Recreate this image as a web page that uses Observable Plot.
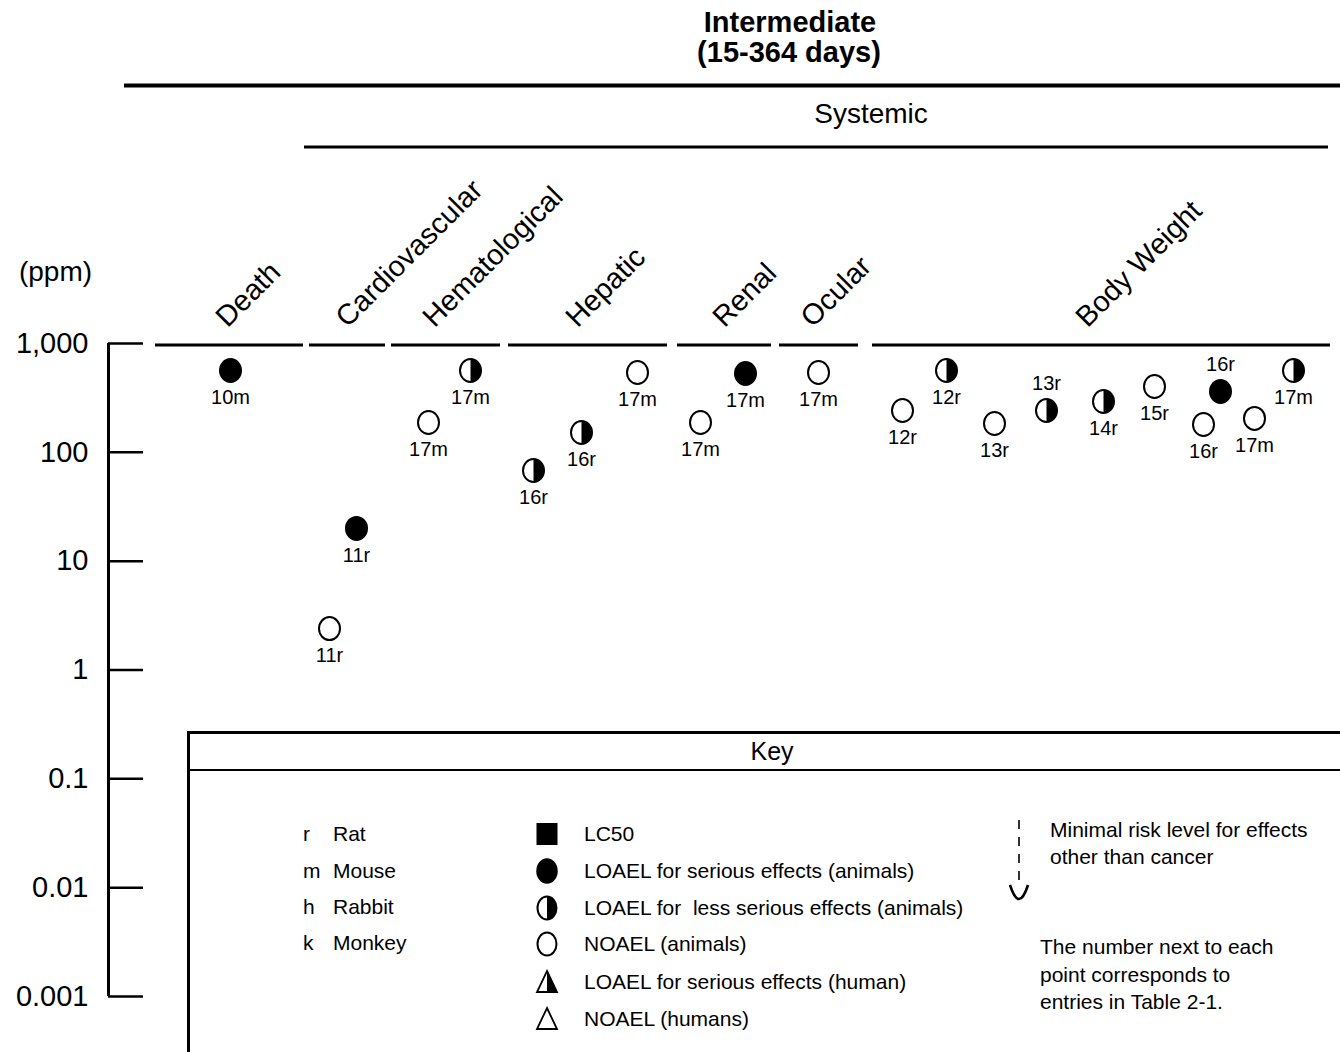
<!DOCTYPE html>
<html>
<head>
<meta charset="utf-8">
<script src="https://cdn.jsdelivr.net/npm/d3@7"></script>
<script src="https://cdn.jsdelivr.net/npm/@observablehq/plot@0.6"></script>
<style>
  html, body { margin: 0; padding: 0; background: #fff; }
  #wrap { position: relative; width: 1340px; height: 1052px; overflow: hidden; font-family: "Liberation Sans", Arial, Helvetica, sans-serif; }
  #header, #chart { display: block; }
  #key { position: absolute; left: 187px; top: 731px; }
  text { white-space: pre; }
</style>
</head>
<body>
<div id="wrap">
  <svg id="header" width="1340" height="160" font-family="Liberation Sans, Arial, Helvetica, sans-serif">
    <text x="790" y="32" text-anchor="middle" font-size="29" font-weight="bold">Intermediate</text>
    <text x="789" y="62" text-anchor="middle" font-size="29" font-weight="bold">(15-364 days)</text>
    <line x1="124" x2="1340" y1="85.5" y2="85.5" stroke="#000" stroke-width="4"/>
    <text x="871" y="123" text-anchor="middle" font-size="28">Systemic</text>
    <line x1="304" x2="1328" y1="147" y2="147" stroke="#000" stroke-width="3"/>
  </svg>
  <div id="chart"></div>
  <svg id="key" width="1153" height="321" font-family="Liberation Sans, Arial, Helvetica, sans-serif" font-size="21">
    <rect x="0" y="0" width="1153" height="321" fill="#fff"/>
    <line x1="1.5" x2="1.5" y1="0" y2="321" stroke="#000" stroke-width="3"/>
    <line x1="0" x2="1153" y1="1.5" y2="1.5" stroke="#000" stroke-width="3"/>
    <line x1="0" x2="1153" y1="39" y2="39" stroke="#000" stroke-width="2"/>
    <text x="585" y="29" text-anchor="middle" font-size="25">Key</text>
    <g id="keyRows"></g>
    <line x1="832" x2="832" y1="89" y2="152" stroke="#000" stroke-width="1.6" stroke-dasharray="9,8"/>
    <path d="M823,154 Q832,182 841,154" fill="none" stroke="#000" stroke-width="2.6"/>
    <text x="863" y="106">Minimal risk level for effects</text>
    <text x="863" y="133">other than cancer</text>
    <text x="853" y="223">The number next to each</text>
    <text x="853" y="251">point corresponds to</text>
    <text x="853" y="278">entries in Table 2-1.</text>
  </svg>
</div>
<script>
// ---- data ----
const categories = ["Death", "Cardiovascular", "Hematological", "Hepatic", "Renal", "Ocular", "Body Weight"];
const categoryStart = [4.7, 20.1, 28.3, 40.0, 56.9, 67.1, 76.4];
const categoryEnd = [19.5, 27.7, 39.2, 55.9, 66.3, 75.0, 122.2];
const categoryLabelAt = [11.9, 23.9, 32.6, 46.9, 61.6, 70.4, 97.9];

const pointColumn = [12.2, 24.8, 22.1, 32.0, 36.2, 42.5, 47.3, 52.9, 59.2, 63.7, 71.0, 79.4, 83.8, 88.6, 93.8, 99.5, 104.6, 109.5, 111.2, 114.6, 118.5];
const pointPpm = [565, 20, 2.4, 188, 565, 68, 152, 541, 188, 530, 541, 242, 565, 184, 242, 293, 403, 180, 362, 205, 565];
const pointEffect = ["serious", "serious", "noael", "noael", "less", "less", "less", "noael", "noael", "serious", "noael",
                     "noael", "less", "noael", "less", "less", "noael", "noael", "serious", "noael", "less"];
const pointLabel = ["10m", "11r", "11r", "17m", "17m", "16r", "16r", "17m", "17m", "17m", "17m",
                    "12r", "12r", "13r", "13r", "14r", "15r", "16r", "16r", "17m", "17m"];
const labelAbove = [false, false, false, false, false, false, false, false, false, false, false,
                    false, false, false, true, false, false, false, true, false, false];

const tickValues = [0.001, 0.01, 0.1, 1, 10, 100, 1000];
const tickLabels = ["0.001", "0.01", "0.1", "1", "10", "100", "1,000"];

const speciesCodes = ["r", "m", "h", "k"];
const speciesNames = ["Rat", "Mouse", "Rabbit", "Monkey"];
const keySymbols = ["square", "filled", "half", "open", "triHalf", "triOpen"];
const keyLabels = ["LC50", "LOAEL for serious effects (animals)", "LOAEL for  less serious effects (animals)",
                   "NOAEL (animals)", "LOAEL for serious effects (human)", "NOAEL (humans)"];

// ---- tables ----
const cats = categories.map((name, i) => ({name, start: categoryStart[i], end: categoryEnd[i], at: categoryLabelAt[i]}));
const points = pointColumn.map((col, i) => ({col, ppm: pointPpm[i], effect: pointEffect[i], label: pointLabel[i], above: labelAbove[i]}));

// ---- custom symbols ----
const K = 0.5523;
const ellipseSymbol = {
  draw(ctx, size) {
    const ry = Math.sqrt(size / Math.PI), rx = ry * 0.913;
    ctx.moveTo(rx, 0);
    ctx.bezierCurveTo(rx, ry * K, rx * K, ry, 0, ry);
    ctx.bezierCurveTo(-rx * K, ry, -rx, ry * K, -rx, 0);
    ctx.bezierCurveTo(-rx, -ry * K, -rx * K, -ry, 0, -ry);
    ctx.bezierCurveTo(rx * K, -ry, rx, -ry * K, rx, 0);
    ctx.closePath();
  }
};
const halfRightSymbol = {
  draw(ctx, size) {
    const ry = Math.sqrt(size / Math.PI), rx = ry * 0.913;
    ctx.moveTo(0, -ry);
    ctx.bezierCurveTo(rx * K, -ry, rx, -ry * K, rx, 0);
    ctx.bezierCurveTo(rx, ry * K, rx * K, ry, 0, ry);
    ctx.closePath();
  }
};

const W = 1340, ML = 108, MR = 10;
const frameW = W - ML - MR;

const chart = Plot.plot({
  width: W,
  height: 892,
  marginTop: 183,
  marginBottom: 56,
  marginLeft: ML,
  marginRight: MR,
  x: {domain: [0, 122.2], axis: null},
  y: {type: "log", domain: [0.001, 1000], axis: null},
  style: {fontFamily: "Liberation Sans, Arial, Helvetica, sans-serif", color: "#000", background: "transparent", overflow: "visible"},
  marks: [
    // y axis
    Plot.ruleX([0], {y1: 0.001, y2: 1000, stroke: "#000", strokeWidth: 3}),
    Plot.tickY(tickValues, {y: d => d, insetRight: frameW - 35, stroke: "#000", strokeWidth: 2.5}),
    Plot.axisY(tickValues, {tickSize: 0, tickPadding: 20, fontSize: 29, label: null,
      tickFormat: d => tickLabels[tickValues.indexOf(d)]}),
    Plot.text(["(ppm)"], {text: d => d, frameAnchor: "top-left", lineAnchor: "middle", dx: -53, dy: -71, fontSize: 28, textAnchor: "middle"}),
    // category headers
    Plot.ruleY(cats, {y: () => 1000, x1: "start", x2: "end", stroke: "#000", strokeWidth: 3, dy: 1.5}),
    Plot.text(cats, {x: "at", y: () => 1000, text: "name", rotate: -45,
      textAnchor: "start", lineAnchor: "bottom", dy: -15, fontSize: 29}),
    // points
    Plot.dot(points, {x: "col", y: "ppm", r: 11.5, symbol: ellipseSymbol, fill: "#fff", stroke: "#000", strokeWidth: 2,
      filter: d => d.effect !== "serious"}),
    Plot.dot(points, {x: "col", y: "ppm", r: 11.5, symbol: halfRightSymbol, fill: "#000",
      filter: d => d.effect === "less"}),
    Plot.dot(points, {x: "col", y: "ppm", r: 11.5, symbol: ellipseSymbol, fill: "#000", stroke: "#000", strokeWidth: 2,
      filter: d => d.effect === "serious"}),
    // point labels
    Plot.text(points, {x: "col", y: "ppm", text: "label", dy: 27, fontSize: 20, filter: d => !d.above}),
    Plot.text(points, {x: "col", y: "ppm", text: "label", dy: -27, fontSize: 20, filter: d => d.above})
  ]
});
document.getElementById("chart").appendChild(chart);

// ---- key rows ----
const ns = "http://www.w3.org/2000/svg";
const rows = document.getElementById("keyRows");
function el(tag, attrs, text) {
  const e = document.createElementNS(ns, tag);
  for (const k in attrs) e.setAttribute(k, attrs[k]);
  if (text != null) e.textContent = text;
  rows.appendChild(e);
  return e;
}
const speciesY = [103, 140, 176, 212];
speciesCodes.forEach((c, i) => {
  el("text", {x: 116, y: speciesY[i] + 7}, c);
  el("text", {x: 146, y: speciesY[i] + 7}, speciesNames[i]);
});
const keyY = [103, 140, 177, 213, 251, 288];
function ellPath(cx, cy, rx, ry) {
  return `M${cx + rx},${cy} A${rx},${ry} 0 1,1 ${cx - rx},${cy} A${rx},${ry} 0 1,1 ${cx + rx},${cy} Z`;
}
keySymbols.forEach((s, i) => {
  const cx = 360, cy = keyY[i];
  if (s === "square") el("rect", {x: cx - 10.5, y: cy - 11, width: 21, height: 22, fill: "#000"});
  if (s === "filled") el("path", {d: ellPath(cx, cy, 10, 12), fill: "#000", stroke: "#000", "stroke-width": 1.5});
  if (s === "open" || s === "half") el("path", {d: ellPath(cx, cy, 9.5, 11.5), fill: "#fff", stroke: "#000", "stroke-width": 2});
  if (s === "half") el("path", {d: `M${cx},${cy - 11.5} A9.5,11.5 0 0,1 ${cx},${cy + 11.5} Z`, fill: "#000"});
  if (s === "triOpen" || s === "triHalf") el("path", {d: `M${cx},${cy - 11} L${cx + 10},${cy + 10} L${cx - 10},${cy + 10} Z`, fill: "#fff", stroke: "#000", "stroke-width": 1.8});
  if (s === "triHalf") el("path", {d: `M${cx},${cy - 11} L${cx + 10},${cy + 10} L${cx},${cy + 10} Z`, fill: "#000"});
  el("text", {x: 397, y: cy + 7}, keyLabels[i]);
});
</script>
</body>
</html>
